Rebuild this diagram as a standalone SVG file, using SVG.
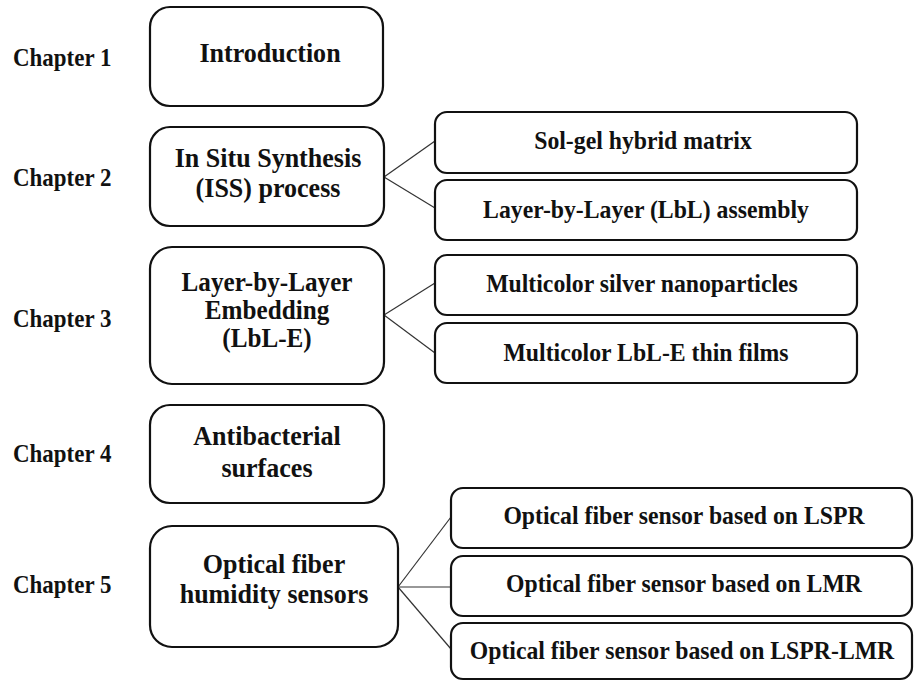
<svg xmlns="http://www.w3.org/2000/svg" width="915" height="682" viewBox="0 0 915 682">
<style>
.bg{fill:#fff}
.main{fill:#fff;stroke:#111;stroke-width:2.2}
.sub{fill:#fff;stroke:#111;stroke-width:2.2}
.conn line{stroke:#333;stroke-width:1.2}
text{font-family:"Liberation Serif","Times New Roman",serif;font-weight:bold;fill:#111}
.ch{font-size:25.5px}
.mt{font-size:28px;text-anchor:middle}
.mt3{font-size:26.5px;text-anchor:middle}
.st{font-size:25px;text-anchor:middle}
</style>
<rect class="bg" x="0" y="0" width="915" height="682"/>
<g id="chapters">
<text class="ch" transform="translate(13 66) scale(0.9 1)">Chapter 1</text>
<text class="ch" transform="translate(13 186) scale(0.9 1)">Chapter 2</text>
<text class="ch" transform="translate(13 327) scale(0.9 1)">Chapter 3</text>
<text class="ch" transform="translate(13 462) scale(0.9 1)">Chapter 4</text>
<text class="ch" transform="translate(13 593) scale(0.9 1)">Chapter 5</text>
</g>
<g id="connectors" class="conn">
<line x1="384" y1="177" x2="435" y2="141"/>
<line x1="384" y1="177" x2="435" y2="208"/>
<line x1="384" y1="315" x2="435" y2="283"/>
<line x1="384" y1="315" x2="435" y2="353"/>
<line x1="398" y1="587" x2="451" y2="517"/>
<line x1="398" y1="587" x2="451" y2="587"/>
<line x1="398" y1="587" x2="451" y2="649"/>
</g>
<g id="introduction">
<rect class="main" x="150" y="7" width="233" height="99" rx="20"/>
<text class="mt" transform="translate(270 62) scale(0.93 1)">Introduction</text>
</g>
<g id="iss">
<rect class="main" x="150" y="127" width="234" height="99" rx="20"/>
<text class="mt" transform="translate(268 167) scale(0.93 1)">In Situ Synthesis</text>
<text class="mt" transform="translate(268 197) scale(0.93 1)">(ISS) process</text>
</g>
<g id="solgel">
<rect class="sub" x="435" y="112" width="422" height="61" rx="12"/>
<text class="st" transform="translate(643 149) scale(0.95 1)">Sol-gel hybrid matrix</text>
</g>
<g id="lbl">
<rect class="sub" x="435" y="180" width="422" height="60" rx="12"/>
<text class="st" transform="translate(646 218) scale(0.95 1)">Layer-by-Layer (LbL) assembly</text>
</g>
<g id="lble">
<rect class="main" x="150" y="247" width="234" height="137" rx="22"/>
<text class="mt3" transform="translate(267 291) scale(0.95 1)">Layer-by-Layer</text>
<text class="mt3" transform="translate(267 319) scale(0.95 1)">Embedding</text>
<text class="mt3" transform="translate(267 347) scale(0.95 1)">(LbL-E)</text>
</g>
<g id="silver">
<rect class="sub" x="435" y="255" width="422" height="60" rx="12"/>
<text class="st" transform="translate(642 292) scale(0.95 1)">Multicolor silver nanoparticles</text>
</g>
<g id="films">
<rect class="sub" x="435" y="323" width="422" height="60" rx="12"/>
<text class="st" transform="translate(646 361) scale(0.95 1)">Multicolor LbL-E thin films</text>
</g>
<g id="antibacterial">
<rect class="main" x="150" y="405" width="234" height="98" rx="20"/>
<text class="mt" transform="translate(267 445) scale(0.93 1)">Antibacterial</text>
<text class="mt" transform="translate(267 477) scale(0.93 1)">surfaces</text>
</g>
<g id="humidity">
<rect class="main" x="150" y="526" width="248" height="121" rx="22"/>
<text class="mt" transform="translate(274 573) scale(0.93 1)">Optical fiber</text>
<text class="mt" transform="translate(274 603) scale(0.93 1)">humidity sensors</text>
</g>
<g id="lspr">
<rect class="sub" x="451" y="488" width="461" height="60" rx="12"/>
<text class="st" transform="translate(684 524) scale(0.95 1)">Optical fiber sensor based on LSPR</text>
</g>
<g id="lmr">
<rect class="sub" x="451" y="556" width="461" height="60" rx="12"/>
<text class="st" transform="translate(684 592) scale(0.95 1)">Optical fiber sensor based on LMR</text>
</g>
<g id="lsprlmr">
<rect class="sub" x="451" y="623" width="461" height="56" rx="12"/>
<text class="st" transform="translate(682 659) scale(0.95 1)">Optical fiber sensor based on LSPR-LMR</text>
</g>
</svg>
